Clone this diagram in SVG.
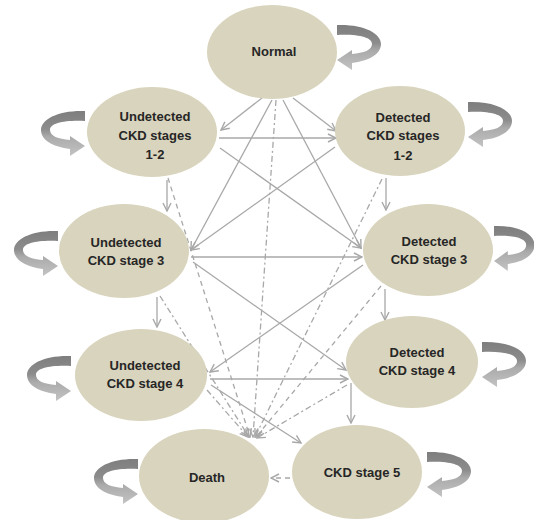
<svg xmlns="http://www.w3.org/2000/svg" xmlns:xlink="http://www.w3.org/1999/xlink" width="534" height="520" viewBox="0 0 534 520">
<style>
.node{fill:#d9d4bd;}
.lbl{font-family:"Liberation Sans",Arial,sans-serif;font-size:13px;font-weight:bold;fill:#262626;text-anchor:middle;}
.c{stroke:#a8a8a8;stroke-width:1.3;fill:none;marker-end:url(#arr);}
.dd{stroke-dasharray:6 3 2 3;}
.da{stroke-dasharray:5 4;}
.loop{fill:url(#loopGrad);}
</style>
<defs>
<linearGradient id="loopGrad" x1="0" y1="0" x2="0" y2="1">
<stop offset="0" stop-color="#7e7e7e"/>
<stop offset="0.4" stop-color="#8c8c8c"/>
<stop offset="0.58" stop-color="#ababab"/>
<stop offset="1" stop-color="#c3c3c3"/>
</linearGradient>
<marker id="arr" markerUnits="userSpaceOnUse" viewBox="0 0 10 10" refX="9" refY="5" markerWidth="10" markerHeight="10" orient="auto">
<path d="M1,1 L9,5 L1,9" fill="none" stroke="#a8a8a8" stroke-width="1.4" stroke-dasharray="none"/>
</marker>
<path id="loopR" class="loop" d="M0,0 C26,-1 44,8 44,19 C44,29 32,36 15,38 L15,45 L0,35 L15,25 L15,29 C27,28 35,25 35,19 C35,12 20,9 0,10 Z"/>
</defs>
<rect width="534" height="520" fill="#ffffff"/>

<g id="connectors">
<line class="c" x1="262" y1="98" x2="221" y2="130"/>
<line class="c" x1="293" y1="98" x2="336" y2="131"/>
<line class="c" x1="272" y1="100" x2="191" y2="250"/>
<line class="c" x1="283" y1="100" x2="361" y2="248"/>
<line class="c" x1="219" y1="138" x2="336" y2="138"/>
<line class="c" x1="220" y1="148" x2="361" y2="248"/>
<line class="c" x1="335" y1="147" x2="191" y2="250"/>
<line class="c" x1="167" y1="180" x2="167" y2="211"/>
<line class="c" x1="386" y1="178" x2="386" y2="210"/>
<line class="c" x1="191" y1="257" x2="362" y2="257"/>
<line class="c" x1="193" y1="262" x2="346" y2="370"/>
<line class="c" x1="363" y1="265" x2="210" y2="372"/>
<line class="c" x1="157" y1="297" x2="157" y2="327"/>
<line class="c" x1="385" y1="289" x2="385" y2="320"/>
<line class="c" x1="210" y1="379" x2="348" y2="379"/>
<line class="c" x1="211" y1="385" x2="301" y2="443"/>
<line class="c" x1="351" y1="383" x2="351" y2="423"/>
<line class="c dd" x1="276" y1="100" x2="253" y2="437"/>
<line class="c da" x1="168" y1="178" x2="250" y2="437"/>
<line class="c dd" x1="382" y1="179" x2="255" y2="437"/>
<line class="c dd" x1="160" y1="296" x2="249" y2="437"/>
<line class="c da" x1="381" y1="286" x2="256" y2="437"/>
<line class="c dd" x1="207" y1="390" x2="248" y2="437"/>
<line class="c dd" x1="347" y1="385" x2="257" y2="438"/>
<line class="c da" x1="290" y1="478" x2="271" y2="478"/>
<g id="self-loops">
<use xlink:href="#loopR" transform="translate(337,25)"/>
<use xlink:href="#loopR" transform="translate(85,111) scale(-1,1)"/>
<use xlink:href="#loopR" transform="translate(468,102)"/>
<use xlink:href="#loopR" transform="translate(58,231) scale(-1,1)"/>
<use xlink:href="#loopR" transform="translate(494,226) scale(0.92,1)"/>
<use xlink:href="#loopR" transform="translate(71,356) scale(-1,1)"/>
<use xlink:href="#loopR" transform="translate(482,342)"/>
<use xlink:href="#loopR" transform="translate(138,459) scale(-1,1)"/>
<use xlink:href="#loopR" transform="translate(427,452)"/>
</g>
</g>

<g id="normal">
<ellipse class="node" cx="272" cy="52" rx="65" ry="47"/>
<text class="lbl" x="274" y="56">Normal</text>
</g>
<g id="undetected-1-2">
<ellipse class="node" cx="152" cy="132" rx="65" ry="45"/>
<text class="lbl" x="155" y="120.5">Undetected</text>
<text class="lbl" x="155" y="139.5">CKD stages</text>
<text class="lbl" x="155" y="159">1-2</text>
</g>
<g id="detected-1-2">
<ellipse class="node" cx="400" cy="131" rx="65" ry="45"/>
<text class="lbl" x="403" y="121.5">Detected</text>
<text class="lbl" x="403" y="140">CKD stages</text>
<text class="lbl" x="403" y="159.5">1-2</text>
</g>
<g id="undetected-3">
<ellipse class="node" cx="124" cy="251" rx="65" ry="47"/>
<text class="lbl" x="126" y="247">Undetected</text>
<text class="lbl" x="126" y="264.5">CKD stage 3</text>
</g>
<g id="detected-3">
<ellipse class="node" cx="428" cy="250" rx="65" ry="46"/>
<text class="lbl" x="429" y="246">Detected</text>
<text class="lbl" x="429" y="263.5">CKD stage 3</text>
</g>
<g id="undetected-4">
<ellipse class="node" cx="141" cy="375" rx="66" ry="46"/>
<text class="lbl" x="145" y="370">Undetected</text>
<text class="lbl" x="145" y="388">CKD stage 4</text>
</g>
<g id="detected-4">
<ellipse class="node" cx="412" cy="362" rx="66" ry="46"/>
<text class="lbl" x="417" y="356.5">Detected</text>
<text class="lbl" x="417" y="374.5">CKD stage 4</text>
</g>
<g id="death">
<ellipse class="node" cx="204" cy="476" rx="65" ry="47"/>
<text class="lbl" x="207" y="481.5">Death</text>
</g>
<g id="ckd-stage-5">
<ellipse class="node" cx="357" cy="472" rx="65" ry="47"/>
<text class="lbl" x="362" y="476.5">CKD stage 5</text>
</g>
</svg>
